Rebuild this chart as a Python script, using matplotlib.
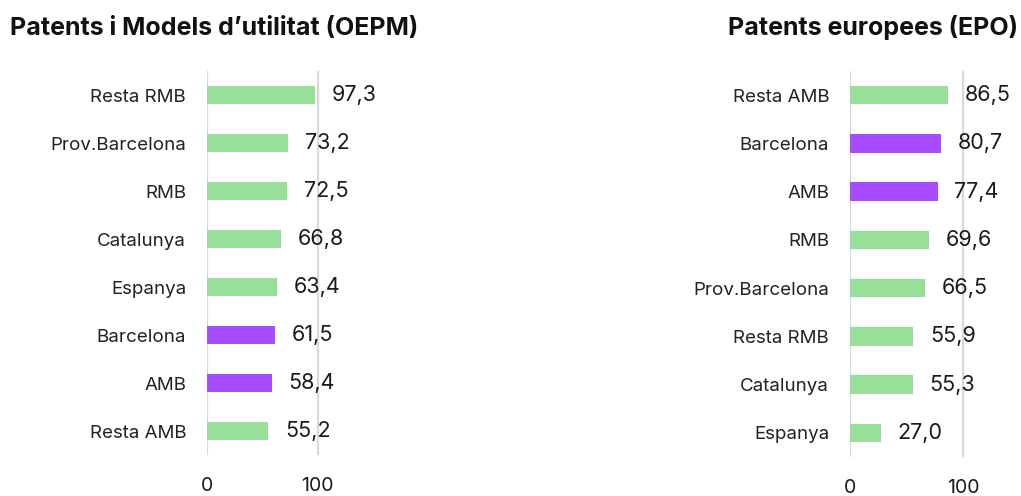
import matplotlib
matplotlib.use('Agg')
import matplotlib.pyplot as plt


# data
oepm_labels = ['Resta RMB', 'Prov.Barcelona', 'RMB', 'Catalunya', 'Espanya', 'Barcelona', 'AMB', 'Resta AMB']
oepm_values = [97.3, 73.2, 72.5, 66.8, 63.4, 61.5, 58.4, 55.2]
oepm_highlight = ['Barcelona', 'AMB']

epo_labels = ['Resta AMB', 'Barcelona', 'AMB', 'RMB', 'Prov.Barcelona', 'Resta RMB', 'Catalunya', 'Espanya']
epo_values = [86.5, 80.7, 77.4, 69.6, 66.5, 55.9, 55.3, 27.0]
epo_highlight = ['Barcelona', 'AMB']

x_ticks = [0, 100]

green = '#98df9a'
purple = '#a64bff'
grid_color = '#d9d9d9'

plt.rcParams['font.family'] = ['Inter', 'DejaVu Sans']

W, H = 1021, 496
fig = plt.figure(figsize=(W / 100, H / 100), dpi=100)


def draw_panel(ax, labels, values, highlight):
    pos = list(range(len(labels)))
    colors = [purple if lab in highlight else green for lab in labels]
    ax.barh(pos, values, height=0.38, color=colors, zorder=2)
    for x in x_ticks:
        ax.axvline(x, color=grid_color, lw=1.6, zorder=1)
    for p, v in zip(pos, values):
        ax.annotate(f'{v:.1f}'.replace('.', ','), (v, p), xytext=(12, 0),
                    textcoords='offset points', va='center', ha='left',
                    fontsize=15.5, color='#1a1a1a')
    ax.set_yticks(pos)
    ax.set_yticklabels(labels, fontsize=13.5, color='#222222')
    ax.set_xticks(x_ticks)
    ax.set_xticklabels([str(t) for t in x_ticks], fontsize=14, color='#1a1a1a')
    ax.tick_params(axis='y', length=0, pad=15)
    ax.tick_params(axis='x', length=0, pad=16)
    ax.set_xlim(0, 130)
    ax.set_ylim(len(labels) - 0.5, -0.5)
    for s in ax.spines.values():
        s.set_visible(False)


ax1 = fig.add_axes([207 / W, 1 - 455 / H, 144 / W, 384 / H])
draw_panel(ax1, oepm_labels, oepm_values, oepm_highlight)

ax2 = fig.add_axes([850 / W, 1 - 457 / H, 147 / W, 386 / H])
draw_panel(ax2, epo_labels, epo_values, epo_highlight)

fig.text(10 / W, 1 - 28 / H, "Patents i Models d’utilitat (OEPM)", fontsize=18,
         fontweight='bold', ha='left', va='center', color='#111111')
fig.text(1018 / W, 1 - 28 / H, 'Patents europees (EPO)', fontsize=18,
         fontweight='bold', ha='right', va='center', color='#111111')

fig.savefig('out.png', dpi=100)
